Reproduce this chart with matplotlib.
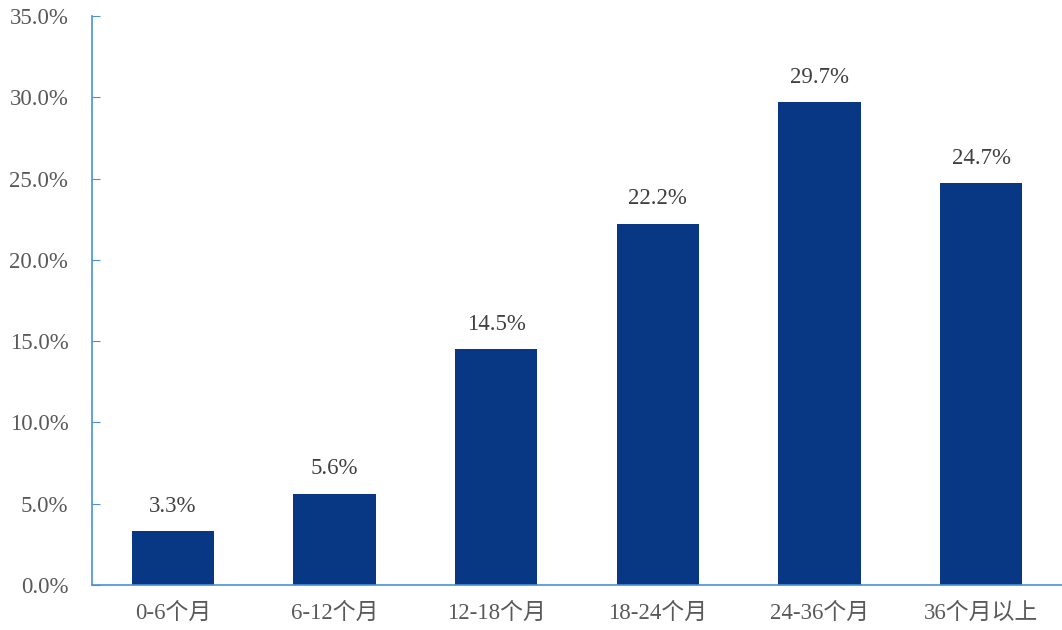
import matplotlib
matplotlib.use('Agg')
from matplotlib import pyplot as plt
from matplotlib.ticker import FuncFormatter

categories = ['0-6个月', '6-12个月', '12-18个月', '18-24个月', '24-36个月', '36个月以上']
shares = [3.3, 5.6, 14.5, 22.2, 29.7, 24.7]
y_ticks = [0, 5, 10, 15, 20, 25, 30, 35]

plt.rcParams['font.family'] = ['Liberation Serif', 'Noto Sans CJK SC']

fig = plt.figure(figsize=(10.62, 6.3), dpi=100)
ax = fig.add_axes([0.0866, 0.0714, 0.9134, 0.9032])

x = range(len(categories))
bars = ax.bar(x, shares, width=0.51, color='#083884')
for xi, v in zip(x, shares):
    ax.text(xi, v + 0.9, f'{v:.1f}%', ha='center', va='bottom',
            fontsize=16.5, color='#404040')

ax.set_xlim(-0.5, len(categories) - 0.5)
ax.set_ylim(0, 35)
ax.set_yticks(y_ticks)
ax.yaxis.set_major_formatter(FuncFormatter(lambda v, _: f'{v:.1f}%'))
ax.set_xticks(list(x))
ax.set_xticklabels(categories)

for side in ('top', 'right'):
    ax.spines[side].set_visible(False)
for side in ('left', 'bottom'):
    ax.spines[side].set_color('#4A90D9')
    ax.spines[side].set_linewidth(1.2)

ax.tick_params(axis='y', direction='in', length=6, color='#4A90D9',
               labelsize=16.5, labelcolor='#595959', pad=17)
ax.tick_params(axis='x', length=0, labelsize=16.5, labelcolor='#595959', pad=13)

fig.savefig('out.png', dpi=100)
